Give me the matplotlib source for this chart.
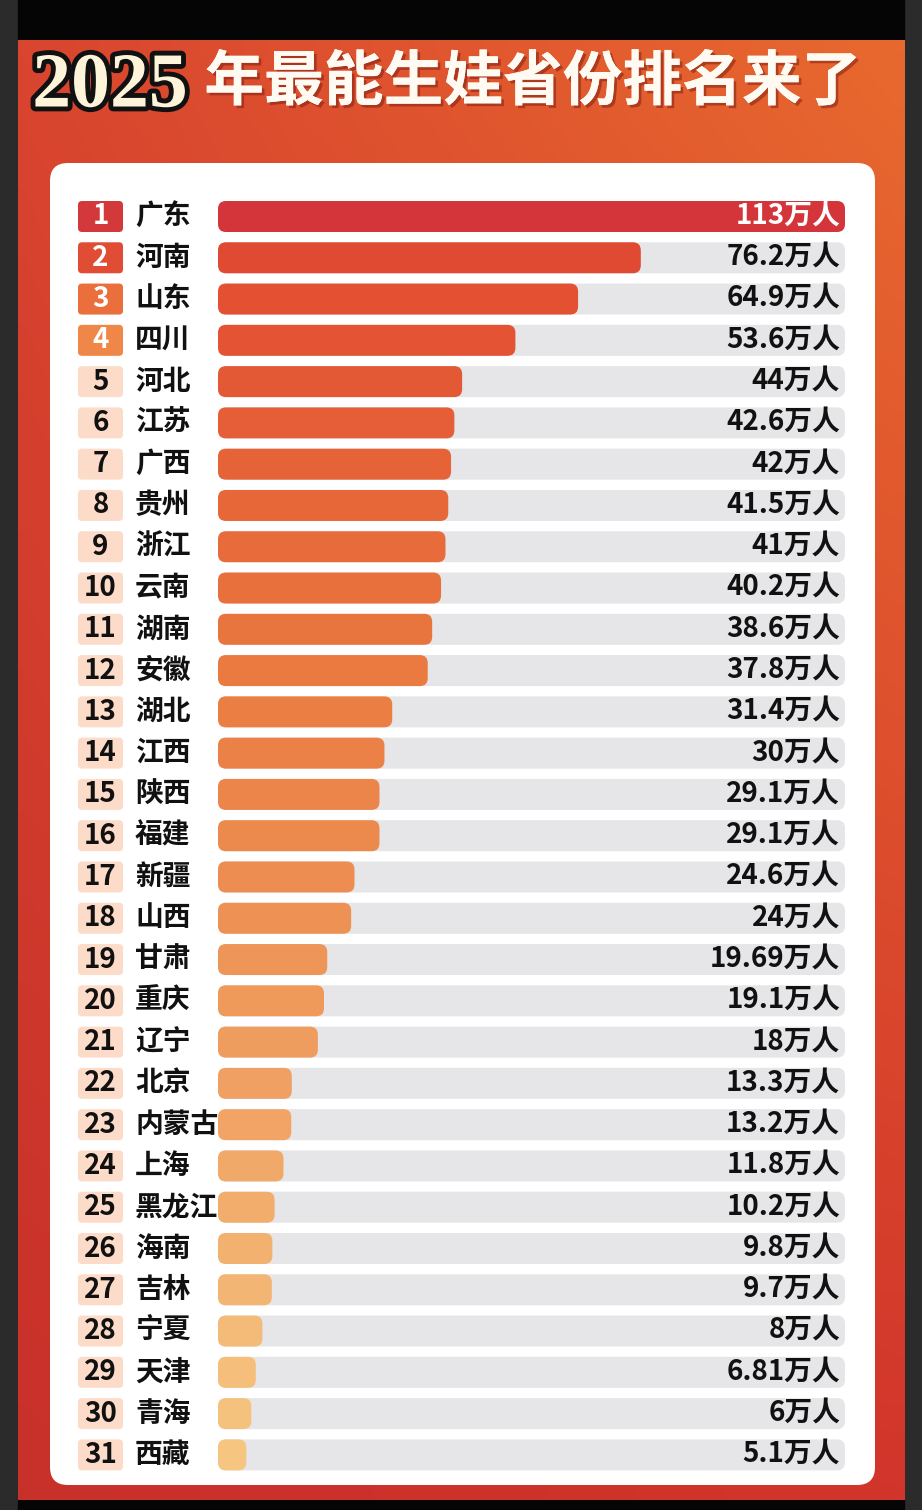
import numpy as np
import matplotlib
matplotlib.use("Agg")
import matplotlib.pyplot as plt
from matplotlib.patches import FancyBboxPatch, Rectangle
from matplotlib.transforms import blended_transform_factory
from matplotlib.colors import LinearSegmentedColormap, to_rgb
import matplotlib.patheffects as pe

plt.rcParams['font.family'] = ['Noto Sans CJK SC', 'DejaVu Sans']

# ---------------- data ----------------
title_year = "2025"
title_text = "年最能生娃省份排名来了"
provinces = ["广东", "河南", "山东", "四川", "河北", "江苏", "广西", "贵州", "浙江", "云南",
             "湖南", "安徽", "湖北", "江西", "陕西", "福建", "新疆", "山西", "甘肃", "重庆",
             "辽宁", "北京", "内蒙古", "上海", "黑龙江", "海南", "吉林", "宁夏", "天津", "青海", "西藏"]
births = [113, 76.2, 64.9, 53.6, 44, 42.6, 42, 41.5, 41, 40.2,
          38.6, 37.8, 31.4, 30, 29.1, 29.1, 24.6, 24, 19.69, 19.1,
          18, 13.3, 13.2, 11.8, 10.2, 9.8, 9.7, 8, 6.81, 6, 5.1]
unit = "万人"
ranks = list(range(1, len(provinces) + 1))
value_labels = [f"{v:g}{unit}" for v in births]

# ---------------- figure ----------------
W, H = 922, 1510
fig = plt.figure(figsize=(W / 100, H / 100), dpi=100)

bg = fig.add_axes([0, 0, 1, 1])
bg.set_xlim(0, W)
bg.set_ylim(H, 0)
bg.axis('off')

# outer frame
bg.add_patch(Rectangle((0, 0), W, H, color='#2b2b2b', zorder=0))
bg.add_patch(Rectangle((18, 0), 886, 40, color='#050505', zorder=0.5))
bg.add_patch(Rectangle((18, 1500), 886, 10, color='#050505', zorder=0.5))

# red-orange gradient panel (bilinear from corners)
tl, tr, bl, br = [np.array(to_rgb(c)) for c in ('#d9452f', '#e8692f', '#c8302a', '#d2352b')]
ny, nx = 60, 60
yy, xx = np.mgrid[0:1:ny * 1j, 0:1:nx * 1j]
img = ((1 - yy)[..., None] * ((1 - xx)[..., None] * tl + xx[..., None] * tr)
       + yy[..., None] * ((1 - xx)[..., None] * bl + xx[..., None] * br))
bg.imshow(img, extent=[18, 904, 1500, 40], aspect='auto', zorder=1, interpolation='bilinear')
bg.set_xlim(0, W)
bg.set_ylim(H, 0)

# white card
bg.add_patch(FancyBboxPatch((50, 163), 825, 1322, boxstyle="round,pad=0,rounding_size=18",
                            facecolor='white', edgecolor='none', zorder=2))

# title
bg.text(110, 88, title_year, fontsize=56, fontweight='bold', family='Liberation Serif',
        color='#fdf4da', ha='center', va='center', zorder=5,
        path_effects=[pe.withStroke(linewidth=7, foreground='#111111')])
bg.text(533, 83, title_text, fontsize=43, fontweight='bold', color='#fffaf2',
        ha='center', va='center', zorder=5,
        path_effects=[pe.withSimplePatchShadow(offset=(2, -2), shadow_rgbFace='#7a1a10', alpha=0.5),
                      pe.Normal()])

# ---------------- bar axes ----------------
x_left, x_right = 218, 845
row0, row_step = 216.5, 41.28
n = len(provinces)
top_px = row0 - row_step / 2
bot_px = row0 + row_step * (n - 1) + row_step / 2
ax = fig.add_axes([x_left / W, 1 - bot_px / H, (x_right - x_left) / W, (bot_px - top_px) / H])
ax.set_xlim(0, max(births))
ax.set_ylim(n - 0.5, -0.5)
ax.axis('off')
ax.patch.set_alpha(0)

px_per_x = (x_right - x_left) / max(births)
bar_h = 31 / row_step
r_px = 8
r_x = r_px / px_per_x
aspect = (r_px / row_step) / r_x

cmap = LinearSegmentedColormap.from_list(
    "bars", [(0.0, '#d3353a'), (1 / 30, '#e24b31'), (11 / 30, '#ea7a3f'),
             (21 / 30, '#f0a062'), (1.0, '#f6c681')])

for i, (v, rk) in enumerate(zip(births, ranks)):
    # track
    ax.add_patch(FancyBboxPatch((0, i - bar_h / 2), max(births), bar_h,
                                boxstyle=f"round,pad=0,rounding_size={r_x}",
                                mutation_aspect=aspect, facecolor='#e6e6e8',
                                edgecolor='none', zorder=1))
    # bar
    ax.add_patch(FancyBboxPatch((0, i - bar_h / 2), v, bar_h,
                                boxstyle=f"round,pad=0,rounding_size={r_x}",
                                mutation_aspect=aspect, facecolor=cmap(i / (n - 1)),
                                edgecolor='none', zorder=2))
    # value label
    col = 'white' if v == max(births) else '#111111'
    ax.text(max(births) - 5 / px_per_x, i, value_labels[i], ha='right', va='center',
            fontsize=20, fontweight='bold', color=col, zorder=3)

# rank badges and names
trans = blended_transform_factory(bg.transData, ax.transData)
badge_colors = {1: '#d3383a', 2: '#e04c34', 3: '#ea6f3c', 4: '#ef8748'}
badge_x0, badge_w = 78, 45
for i, (rk, name) in enumerate(zip(ranks, provinces)):
    fc = badge_colors.get(rk, '#fcdcc8')
    tc = 'white' if rk in badge_colors else '#111111'
    p = FancyBboxPatch((badge_x0, i - bar_h / 2), badge_w, bar_h,
                       boxstyle="round,pad=0,rounding_size=4", mutation_aspect=1 / row_step,
                       facecolor=fc, edgecolor='none', transform=trans, clip_on=False, zorder=3)
    ax.add_patch(p)
    ax.text(badge_x0 + badge_w / 2, i, str(rk), transform=trans, ha='center', va='center',
            fontsize=20, fontweight='bold', color=tc, clip_on=False, zorder=4)
    ax.text(135, i, name, transform=trans, ha='left', va='center',
            fontsize=20, fontweight='bold', color='#111111', clip_on=False, zorder=4)

fig.savefig("out.png", dpi=100)
